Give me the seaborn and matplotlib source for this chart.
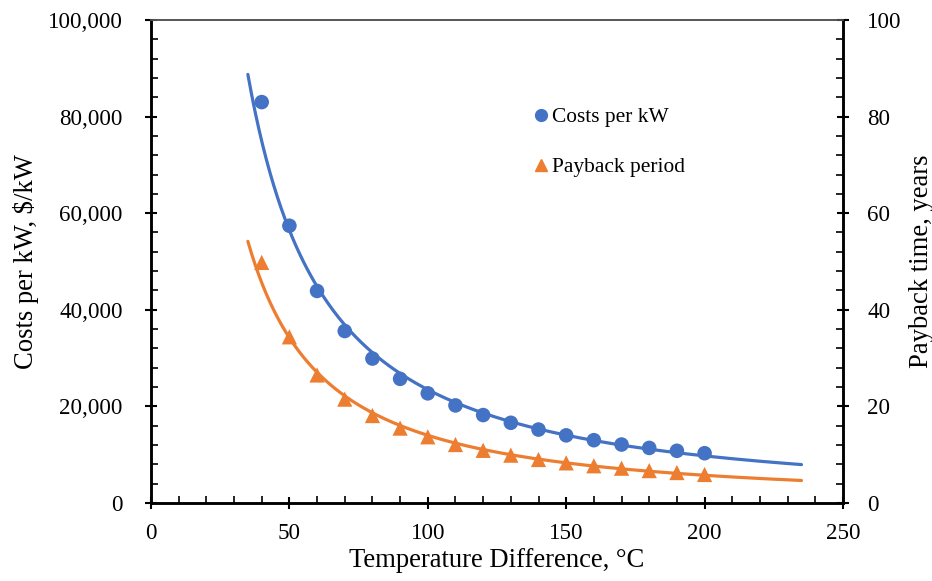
import numpy as np
import pandas as pd
import matplotlib
matplotlib.use("Agg")
import matplotlib.pyplot as plt
from matplotlib.ticker import MultipleLocator, FuncFormatter
from matplotlib.lines import Line2D
import seaborn as sns

# Data
temp_diff = [40, 50, 60, 70, 80, 90, 100, 110, 120, 130, 140, 150, 160, 170, 180, 190, 200]
cost_per_kw = [83000, 57400, 43900, 35600, 29900, 25700, 22700, 20200, 18200, 16600,
               15200, 14000, 13000, 12100, 11400, 10800, 10300]
payback_years = [49.8, 34.4, 26.5, 21.5, 18.1, 15.5, 13.7, 12.1, 10.9, 9.9,
                 9.0, 8.3, 7.7, 7.2, 6.7, 6.3, 5.9]

df = pd.DataFrame({"dT": temp_diff, "cost": cost_per_kw, "payback": payback_years})

# Power trendlines (log-log least squares, like Excel), drawn from 35 to 235
trend_x = np.linspace(35, 235, 300)
b1, a1 = np.polyfit(np.log(df["dT"]), np.log(df["cost"]), 1)
b2, a2 = np.polyfit(np.log(df["dT"]), np.log(df["payback"]), 1)
trend = pd.DataFrame({"dT": trend_x,
                      "cost": np.exp(a1) * trend_x ** b1,
                      "payback": np.exp(a2) * trend_x ** b2})

sns.set_style("white")
plt.rcParams["font.family"] = ["Liberation Serif", "DejaVu Serif"]
plt.rcParams["text.color"] = "black"
plt.rcParams["axes.labelcolor"] = "black"

blue = "#4472C4"
orange = "#ED7D31"

fig, ax = plt.subplots(figsize=(9.32, 5.81), dpi=100)
fig.subplots_adjust(left=0.162, right=0.9045, bottom=0.1343, top=0.9656)
ax2 = ax.twinx()

sns.lineplot(data=trend, x="dT", y="cost", ax=ax, color=blue, linewidth=2.3)
sns.scatterplot(data=df, x="dT", y="cost", ax=ax, color=blue, marker="o",
                s=110, edgecolor="none", zorder=3)
sns.lineplot(data=trend, x="dT", y="payback", ax=ax2, color=orange, linewidth=2.3)
sns.scatterplot(data=df, x="dT", y="payback", ax=ax2, color=orange, marker="^",
                s=120, edgecolor="none", zorder=3)

ax.set_xlim(0, 250)
ax.set_ylim(0, 100000)
ax2.set_ylim(0, 100)

ax.xaxis.set_major_locator(MultipleLocator(50))
ax.xaxis.set_minor_locator(MultipleLocator(10))
ax.yaxis.set_major_locator(MultipleLocator(20000))
ax.yaxis.set_minor_locator(MultipleLocator(4000))
ax2.yaxis.set_major_locator(MultipleLocator(20))
ax2.yaxis.set_minor_locator(MultipleLocator(4))
ax.yaxis.set_major_formatter(FuncFormatter(lambda v, p: f"{int(v):,}"))

for a in (ax, ax2):
    a.tick_params(which="major", direction="inout", length=9, width=1.5,
                  labelsize=16.6, colors="black")
    a.tick_params(which="minor", direction="in", length=5, width=1.2, colors="black")
    for sp in a.spines.values():
        sp.set_color("black")
        sp.set_linewidth(1.8)
    a.spines["top"].set_color("#555555")
    a.spines["top"].set_linewidth(1.2)
ax.tick_params(axis="x", which="both", bottom=True)
ax.tick_params(axis="x", which="major", pad=10)
ax.tick_params(axis="y", which="both", left=True)
ax.tick_params(axis="y", which="major", pad=16)
ax2.tick_params(axis="y", which="both", right=True)
ax2.tick_params(axis="y", which="major", pad=13)

ax.set_xlabel("Temperature Difference, \u00b0C", fontsize=19.2, labelpad=3)
ax.set_ylabel("Costs per kW, $/kW", fontsize=19.2, labelpad=6)
ax2.set_ylabel("Payback time, years", fontsize=19.2, labelpad=5)

handles = [
    Line2D([], [], color=blue, marker="o", linestyle="none", markersize=8.5),
    Line2D([], [], color=orange, marker="^", linestyle="none", markersize=8.5),
]
ax.legend(handles, ["Costs per kW", "Payback period"], loc="upper left",
          bbox_to_anchor=(0.533, 0.837), frameon=False, fontsize=15.4,
          handletextpad=-0.1, labelspacing=1.4, borderaxespad=0,
          handlelength=1.2)

plt.savefig("out.png", dpi=100)
